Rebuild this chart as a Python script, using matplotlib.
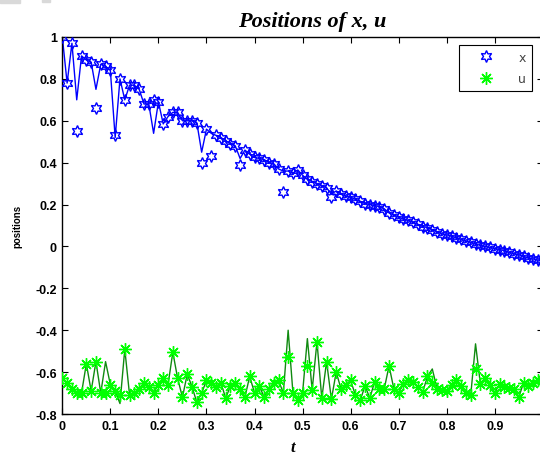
import matplotlib.pyplot as plt
from matplotlib.lines import Line2D
from matplotlib.patches import Rectangle
import numpy as np

# time grid (step 0.01)
t = np.linspace(0, 1, 101)

# measured x (markers)
x_mark = [1.00, 0.78, 0.97, 0.55, 0.91, 0.89, 0.88, 0.66, 0.87, 0.86,
          0.84, 0.53, 0.80, 0.70, 0.77, 0.77, 0.75, 0.68, 0.68, 0.70,
          0.69, 0.585, 0.62, 0.64, 0.64, 0.60, 0.60, 0.60, 0.59, 0.40,
          0.56, 0.43, 0.53, 0.52, 0.505, 0.49, 0.48, 0.39, 0.46, 0.44,
          0.425, 0.42, 0.415, 0.40, 0.395, 0.37, 0.26, 0.36, 0.35, 0.365,
          0.34, 0.32, 0.31, 0.30, 0.29, 0.28, 0.235, 0.265, 0.25, 0.24,
          0.235, 0.225, 0.215, 0.205, 0.20, 0.195, 0.19, 0.18, 0.16, 0.15,
          0.14, 0.13, 0.125, 0.115, 0.105, 0.095, 0.09, 0.08, 0.07, 0.06,
          0.055, 0.05, 0.04, 0.035, 0.025, 0.02, 0.012, 0.005, 0.0, -0.005,
          -0.01, -0.015, -0.02, -0.028, -0.035, -0.04, -0.048, -0.055, -0.06, -0.065,
          -0.07]

# estimated x (line)
x_line = [1.00, 0.78, 0.97, 0.70, 0.91, 0.89, 0.88, 0.75, 0.87, 0.86,
          0.84, 0.52, 0.80, 0.70, 0.77, 0.77, 0.75, 0.68, 0.68, 0.54,
          0.69, 0.585, 0.62, 0.64, 0.64, 0.60, 0.60, 0.60, 0.59, 0.45,
          0.56, 0.54, 0.53, 0.52, 0.505, 0.49, 0.48, 0.42, 0.46, 0.44,
          0.425, 0.42, 0.415, 0.40, 0.395, 0.37, 0.36, 0.36, 0.35, 0.365,
          0.34, 0.32, 0.31, 0.30, 0.29, 0.28, 0.25, 0.265, 0.25, 0.24,
          0.235, 0.225, 0.215, 0.205, 0.20, 0.195, 0.19, 0.18, 0.16, 0.15,
          0.14, 0.13, 0.125, 0.115, 0.105, 0.095, 0.09, 0.08, 0.07, 0.06,
          0.055, 0.05, 0.04, 0.035, 0.025, 0.02, 0.012, 0.005, 0.0, -0.005,
          -0.01, -0.015, -0.02, -0.028, -0.035, -0.04, -0.048, -0.055, -0.06, -0.065,
          -0.07]

# measured u (markers)
u_mark = [-0.63, -0.65, -0.68, -0.70, -0.70, -0.56, -0.69, -0.55, -0.70, -0.70,
          -0.66, -0.69, -0.71, -0.49, -0.71, -0.70, -0.68, -0.65, -0.67, -0.70,
          -0.66, -0.63, -0.66, -0.505, -0.63, -0.72, -0.61, -0.67, -0.745, -0.70,
          -0.64, -0.65, -0.67, -0.65, -0.725, -0.665, -0.65, -0.68, -0.72, -0.62,
          -0.70, -0.665, -0.72, -0.68, -0.65, -0.64, -0.70, -0.53, -0.70, -0.735,
          -0.70, -0.57, -0.685, -0.455, -0.725, -0.55, -0.73, -0.60, -0.68, -0.66,
          -0.64, -0.71, -0.735, -0.665, -0.725, -0.645, -0.68, -0.68, -0.57, -0.68,
          -0.70, -0.655, -0.64, -0.645, -0.67, -0.695, -0.62, -0.65, -0.68, -0.685,
          -0.69, -0.66, -0.64, -0.665, -0.70, -0.71, -0.585, -0.655, -0.63, -0.66,
          -0.70, -0.655, -0.67, -0.675, -0.68, -0.72, -0.65, -0.665, -0.65, -0.64,
          -0.64]

# estimated u (line)
u_line = [-0.63, -0.65, -0.68, -0.70, -0.70, -0.56, -0.69, -0.55, -0.70, -0.55,
          -0.66, -0.69, -0.75, -0.49, -0.71, -0.70, -0.68, -0.65, -0.67, -0.70,
          -0.66, -0.63, -0.66, -0.505, -0.63, -0.72, -0.61, -0.67, -0.745, -0.70,
          -0.64, -0.65, -0.67, -0.65, -0.725, -0.665, -0.65, -0.68, -0.72, -0.62,
          -0.70, -0.665, -0.72, -0.68, -0.65, -0.64, -0.70, -0.40, -0.70, -0.735,
          -0.70, -0.44, -0.685, -0.455, -0.725, -0.55, -0.73, -0.60, -0.68, -0.66,
          -0.64, -0.71, -0.735, -0.665, -0.725, -0.645, -0.68, -0.68, -0.57, -0.68,
          -0.70, -0.655, -0.64, -0.645, -0.67, -0.695, -0.62, -0.585, -0.68, -0.685,
          -0.69, -0.66, -0.64, -0.665, -0.70, -0.71, -0.465, -0.655, -0.63, -0.66,
          -0.70, -0.655, -0.67, -0.675, -0.68, -0.72, -0.65, -0.665, -0.65, -0.64,
          -0.64]

xticks = [0, 0.1, 0.2, 0.3, 0.4, 0.5, 0.6, 0.7, 0.8, 0.9]
xticklabels = ['0', '0.1', '0.2', '0.3', '0.4', '0.5', '0.6', '0.7', '0.8', '0.9']
yticks = [-0.8, -0.6, -0.4, -0.2, 0, 0.2, 0.4, 0.6, 0.8, 1]
yticklabels = ['-0.8', '-0.6', '-0.4', '-0.2', '0', '0.2', '0.4', '0.6', '0.8', '1']

hexagram = (6, 1, 0)
asterisk = (8, 2, 0)

fig = plt.figure(figsize=(5.4, 4.56), dpi=100)
ax = fig.add_axes([0.1154, 0.0899, 0.8898, 0.8268])

ax.plot(t, x_line, color='blue', lw=1.0, zorder=2)
ax.plot(t, x_mark, ls='none', marker=hexagram, ms=8.5, mfc='none',
        mec='blue', mew=1.0, zorder=3)
ax.plot(t, u_line, color='#108a10', lw=1.0, zorder=2)
ax.plot(t, u_mark, ls='none', marker=asterisk, ms=9, mec='#00ff00',
        mew=1.0, zorder=3)

ax.set_xlim(0, 1)
ax.set_ylim(-0.8, 1)
ax.set_xticks(xticks)
ax.set_xticklabels(xticklabels)
ax.set_yticks(yticks)
ax.set_yticklabels(yticklabels)
ax.tick_params(direction='in', length=4, width=0.8, top=True, right=True,
               labelsize=9, pad=4)
for lab in ax.get_xticklabels() + ax.get_yticklabels():
    lab.set_fontweight('bold')
    lab.set_family('Liberation Sans')
for sp in ax.spines.values():
    sp.set_linewidth(1.0)

ax.set_title('Positions of x, u', family='Liberation Serif', style='italic',
             fontweight='bold', fontsize=16, x=0.52, pad=8)
ax.set_xlabel('t', family='Liberation Serif', style='italic',
              fontweight='bold', fontsize=12, labelpad=0)
ax.xaxis.set_label_coords(0.48, -0.065)
ax.set_ylabel('positions', family='Liberation Sans', fontweight='bold',
              fontsize=7)
ax.yaxis.set_label_coords(-0.083, 0.5)

handles = [Line2D([], [], ls='none', marker=hexagram, ms=8.5, mfc='none',
                  mec='blue', mew=1.0),
           Line2D([], [], ls='none', marker=asterisk, ms=9, mec='#00ff00',
                  mew=1.0)]
leg = fig.legend(handles, ['x', 'u'], loc='upper right',
                 bbox_to_anchor=(0.985, 0.899), bbox_transform=fig.transFigure,
                 borderaxespad=0, fancybox=False, framealpha=1,
                 edgecolor='black', fontsize=9, handlelength=3.4,
                 handletextpad=0.9, labelspacing=0.7, borderpad=0.45)
leg.get_frame().set_linewidth(0.8)
for txt in leg.get_texts():
    txt.set_color('#444444')

# faint grey bits along the top edge
fig.patches.append(Rectangle((0, 452), 20, 4, transform=None,
                             color='#d9d9d9', zorder=0))
fig.patches.append(Rectangle((42, 453), 8, 3, transform=None,
                             color='#d9d9d9', zorder=0))

fig.savefig('out.png', dpi=100)
